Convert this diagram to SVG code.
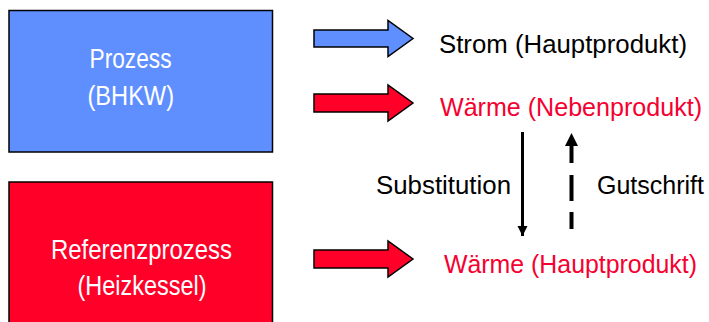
<svg xmlns="http://www.w3.org/2000/svg" width="709" height="322" viewBox="0 0 709 322">
  <style>
    text { font-family: "Liberation Sans", Arial, sans-serif; font-size: 25px; }
    .box-label { font-size: 28px; }
    .white { fill: #ffffff; }
    .black { fill: #000000; }
    .red { fill: #F5002F; }
    .box { stroke: #000000; stroke-width: 1.5; }
    .blk { stroke: #000000; stroke-width: 1.5; stroke-linejoin: miter; }
  </style>
  <defs>
    <marker id="head" viewBox="0 0 10 10" refX="10" refY="5" markerWidth="3.4" markerHeight="3.4" orient="auto" markerUnits="strokeWidth">
      <path d="M0,0 L10,5 L0,10 Z" fill="#000000"/>
    </marker>
  </defs>

  <rect width="709" height="322" fill="#ffffff"/>

  <g id="prozess">
    <rect class="box" x="9" y="10.5" width="263.5" height="141.5" fill="#5F8FFF"/>
    <text class="white box-label" x="89.5" y="67.5" textLength="82" lengthAdjust="spacingAndGlyphs">Prozess</text>
    <text class="white box-label" x="87.5" y="104.5" textLength="86.5" lengthAdjust="spacingAndGlyphs">(BHKW)</text>
  </g>

  <g id="referenzprozess">
    <rect class="box" x="9" y="182" width="263.5" height="150" fill="#FF0029"/>
    <text class="white box-label" x="51" y="258.5" textLength="181" lengthAdjust="spacingAndGlyphs">Referenzprozess</text>
    <text class="white box-label" x="77.5" y="295" textLength="129" lengthAdjust="spacingAndGlyphs">(Heizkessel)</text>
  </g>

  <g id="strom">
    <text class="black" x="439" y="52.5" textLength="248" lengthAdjust="spacingAndGlyphs">Strom (Hauptprodukt)</text>
  </g>

  <g id="waerme-neben">
    <text class="red" x="440" y="116" textLength="262" lengthAdjust="spacingAndGlyphs">Wärme (Nebenprodukt)</text>
  </g>

  <g id="waerme-haupt">
    <text class="red" x="444" y="273" textLength="253" lengthAdjust="spacingAndGlyphs">Wärme (Hauptprodukt)</text>
  </g>

  <g id="connectors">
    <!-- block arrows from the processes to their products -->
    <polygon class="blk" fill="#5F8FFF" points="314,30 388,30 388,20.5 413,38.5 388,56.5 388,47 314,47"/>
    <polygon class="blk" fill="#FF0029" points="314,94 388,94 388,85 413,103 388,121 388,112 314,112"/>
    <polygon class="blk" fill="#FF0029" points="314,250 388,250 388,241 413,259 388,277 388,268 314,268"/>

    <!-- substitution: solid arrow downwards -->
    <line x1="522.5" y1="132" x2="522.5" y2="236" stroke="#000000" stroke-width="3" marker-end="url(#head)"/>

    <!-- credit: dashed arrow upwards -->
    <line x1="571.5" y1="229" x2="571.5" y2="212" stroke="#000000" stroke-width="4"/>
    <line x1="571.5" y1="201" x2="571.5" y2="175" stroke="#000000" stroke-width="4"/>
    <line x1="571.5" y1="163" x2="571.5" y2="145" stroke="#000000" stroke-width="4"/>
    <polygon points="565,146 571.5,133 578,146" fill="#000000"/>

    <text class="black" x="376" y="194" textLength="135" lengthAdjust="spacingAndGlyphs">Substitution</text>
    <text class="black" x="597" y="194" textLength="107" lengthAdjust="spacingAndGlyphs">Gutschrift</text>
  </g>
</svg>
